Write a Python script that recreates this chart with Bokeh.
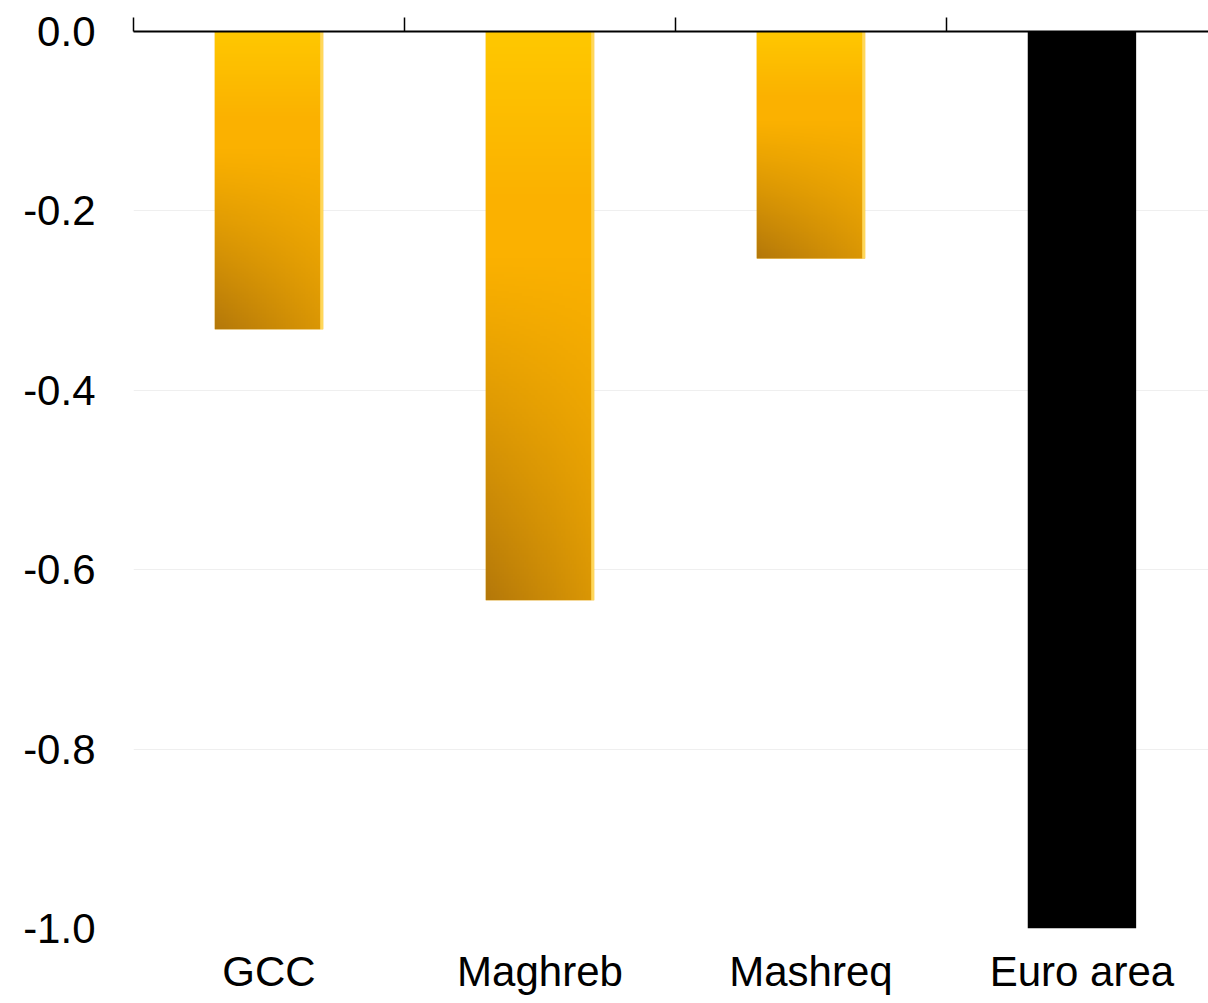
import numpy as np
from bokeh.plotting import figure
from bokeh.models import Range1d, FixedTicker, LinearAxis, NumeralTickFormatter
from bokeh.embed import file_html
from bokeh.resources import INLINE

# ---- data ----
categories = ["GCC", "Maghreb", "Mashreq", "Euro area"]
values = [-0.332, -0.634, -0.253, -1.0]
bar_colors = ["#F5AE00", "#F5AE00", "#F5AE00", "#000000"]
gradient_bar = [True, True, True, False]
y_ticks = [0.0, -0.2, -0.4, -0.6, -0.8, -1.0]

FONT = "Liberation Sans"
positions = [i + 0.5 for i in range(len(categories))]
BAR_W = 0.4

p = figure(width=1208, height=1003, output_backend="svg", toolbar_location=None,
           x_range=Range1d(0, 3.967), y_range=Range1d(-1.0, 0.0),
           x_axis_location=None, y_axis_location="left",
           min_border_left=133, min_border_right=0, min_border_top=31,
           min_border_bottom=75)
p.outline_line_color = None
p.background_fill_color = "white"
p.border_fill_color = "white"

# grid
p.xgrid.visible = False
p.ygrid.ticker = FixedTicker(ticks=y_ticks)
p.ygrid.grid_line_color = "#efefef"
p.ygrid.grid_line_width = 1

# y axis
ya = p.yaxis[0]
ya.ticker = FixedTicker(ticks=y_ticks)
ya.formatter = NumeralTickFormatter(format="0.0")
ya.axis_line_color = None
ya.major_tick_line_color = None
ya.minor_tick_line_color = None
ya.major_tick_out = 0
ya.major_tick_in = 0
ya.major_label_standoff = 38
ya.major_label_text_font = FONT
ya.major_label_text_font_size = "42px"
ya.major_label_text_color = "black"

# top axis (zero line with category boundary ticks)
top = LinearAxis(ticker=FixedTicker(ticks=[0, 1, 2, 3, 4]))
top.major_label_overrides = {0: "", 1: "", 2: "", 3: "", 4: ""}
top.major_label_text_font_size = "1px"
top.major_label_standoff = 0
top.major_tick_out = 14
top.major_tick_in = 0
top.major_tick_line_width = 1.5
top.major_tick_line_color = "black"
top.minor_tick_line_color = None
top.axis_line_color = "black"
top.axis_line_width = 2
p.add_layout(top, "above")

# bottom axis with category labels
bot = LinearAxis(ticker=FixedTicker(ticks=positions))
bot.major_label_overrides = {pos: c for pos, c in zip(positions, categories)}
bot.major_label_text_font = FONT
bot.major_label_text_font_size = "42px"
bot.major_label_text_color = "black"
bot.major_label_standoff = 19
bot.major_tick_out = 0
bot.major_tick_in = 0
bot.major_tick_line_color = None
bot.minor_tick_line_color = None
bot.axis_line_color = None
p.add_layout(bot, "below")

# base bars
p.vbar(x=positions, top=0, bottom=values, width=BAR_W,
       fill_color=bar_colors, line_color=None)

# gradient fill for gold bars (style only)
def gold_gradient(h=240, w=60):
    t = np.linspace(0, 1, h)[:, None]          # 0 top, 1 bottom
    u = np.linspace(0, 1, w)[None, :]          # 0 left, 1 right
    top_c = np.array([255, 200, 0], float)
    mid_c = np.array([251, 177, 0], float)
    dark_c = np.array([180, 120, 10], float)
    s1 = np.clip(t / 0.3, 0, 1)
    base = top_c * (1 - s1[..., None]) + mid_c * s1[..., None]
    s2 = np.clip((t - 0.4) / 0.6, 0, 1) ** 1.1 * (1 - 0.55 * u)
    col = base * (1 - s2[..., None]) + dark_c * s2[..., None]
    img = np.zeros((h, w), dtype=np.uint32)
    view = img.view(dtype=np.uint8).reshape((h, w, 4))
    view[..., 0] = col[..., 0]
    view[..., 1] = col[..., 1]
    view[..., 2] = col[..., 2]
    view[..., 3] = 255
    # pale highlight on right edge
    view[:, -2:, 0] = 255
    view[:, -2:, 1] = 215
    view[:, -2:, 2] = 90
    return img[::-1]  # image origin bottom-left

grad = gold_gradient()
for pos, v, g in zip(positions, values, gradient_bar):
    if g:
        p.image_rgba(image=[grad], x=pos - BAR_W / 2, y=v, dw=BAR_W, dh=-v)

open("out.html", "w").write(file_html(p, INLINE))
